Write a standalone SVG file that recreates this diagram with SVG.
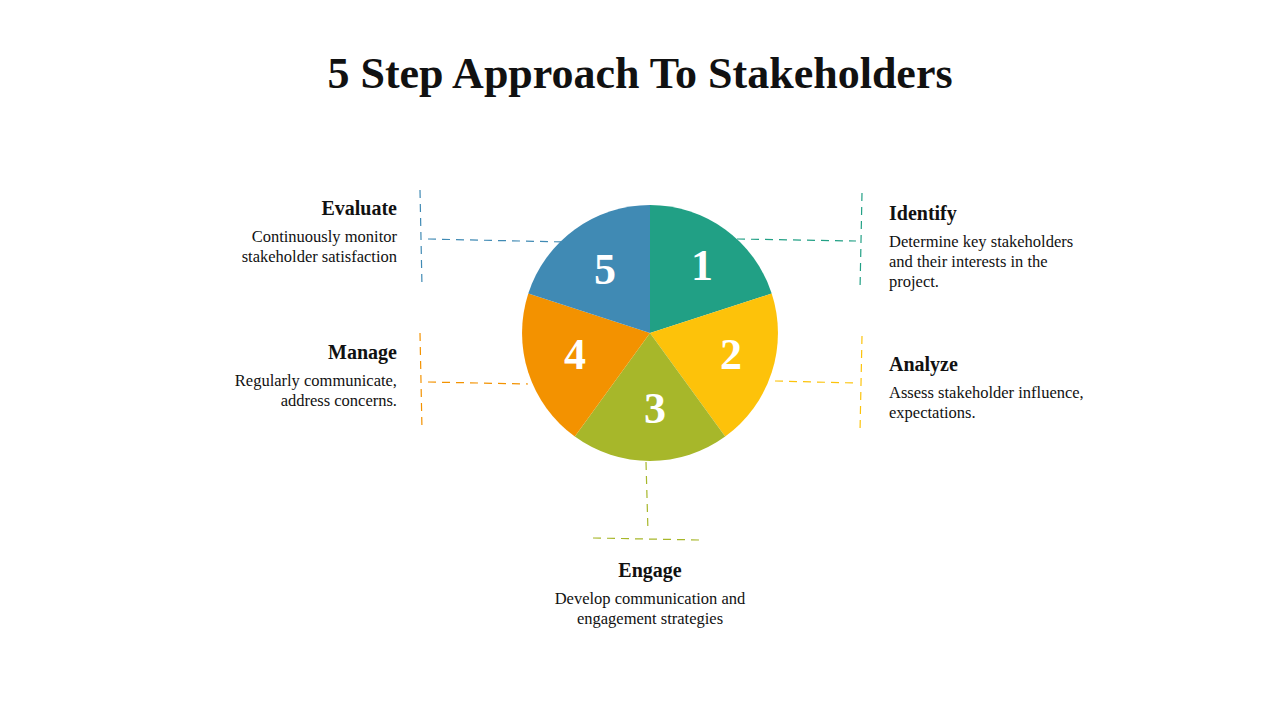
<svg xmlns="http://www.w3.org/2000/svg" width="1280" height="720" viewBox="0 0 1280 720">
<style>
.t{font-family:"Liberation Serif","DejaVu Serif",serif;fill:#111}
.h{font-size:20px;font-weight:bold}
.d{font-size:16.5px}
.n{font-family:"Liberation Serif","DejaVu Serif",serif;font-size:44px;font-weight:bold;fill:#fff;text-anchor:middle}
.c{fill:none;stroke-width:1.2;stroke-dasharray:8 6}
</style>
<rect width="1280" height="720" fill="#fff"/>
<text class="t" x="640" y="88" text-anchor="middle" font-size="44" font-weight="bold">5 Step Approach To Stakeholders</text>
<g id="connectors">
<path class="c" stroke="#22a085" d="M737 239 L856 241 M862 193 L860 290"/>
<path class="c" stroke="#fcc30b" d="M775 381 L856 383 M862 336 L860 432"/>
<path class="c" stroke="#a7b72a" d="M646 462 L648 532 M593 538 L700 540"/>
<path class="c" stroke="#f39200" d="M428 382 L528 384 M420 333 L422 430"/>
<path class="c" stroke="#408ab4" d="M428 239 L565 242 M420 190 L422 287"/>
</g>
<g id="slice1"><path d="M650 333 L650 205 A128 128 0 0 1 771.7 293.5 Z" fill="#21a085"/><text class="n" x="702" y="280">1</text></g>
<g id="slice2"><path d="M650 333 L771.7 293.5 A128 128 0 0 1 725.2 436.6 Z" fill="#fdc20a"/><text class="n" x="731" y="369">2</text></g>
<g id="slice3"><path d="M650 333 L725.2 436.6 A128 128 0 0 1 574.8 436.6 Z" fill="#a7b72a"/><text class="n" x="655" y="423">3</text></g>
<g id="slice4"><path d="M650 333 L574.8 436.6 A128 128 0 0 1 528.3 293.5 Z" fill="#f39200"/><text class="n" x="575" y="369">4</text></g>
<g id="slice5"><path d="M650 333 L528.3 293.5 A128 128 0 0 1 650 205 Z" fill="#408ab4"/><text class="n" x="605" y="284">5</text></g>
<g id="identify"><text class="t h" x="889" y="220">Identify</text><text class="t d" x="889" y="247">Determine key stakeholders</text><text class="t d" x="889" y="267">and their interests in the</text><text class="t d" x="889" y="287">project.</text></g>
<g id="analyze"><text class="t h" x="889" y="371">Analyze</text><text class="t d" x="889" y="398">Assess stakeholder influence,</text><text class="t d" x="889" y="418">expectations.</text></g>
<g id="engage"><text class="t h" x="650" y="577" text-anchor="middle">Engage</text><text class="t d" x="650" y="604" text-anchor="middle">Develop communication and</text><text class="t d" x="650" y="624" text-anchor="middle">engagement strategies</text></g>
<g id="manage"><text class="t h" x="397" y="359" text-anchor="end">Manage</text><text class="t d" x="397" y="386" text-anchor="end">Regularly communicate,</text><text class="t d" x="397" y="406" text-anchor="end">address concerns.</text></g>
<g id="evaluate"><text class="t h" x="397" y="215" text-anchor="end">Evaluate</text><text class="t d" x="397" y="242" text-anchor="end">Continuously monitor</text><text class="t d" x="397" y="262" text-anchor="end">stakeholder satisfaction</text></g>
</svg>
